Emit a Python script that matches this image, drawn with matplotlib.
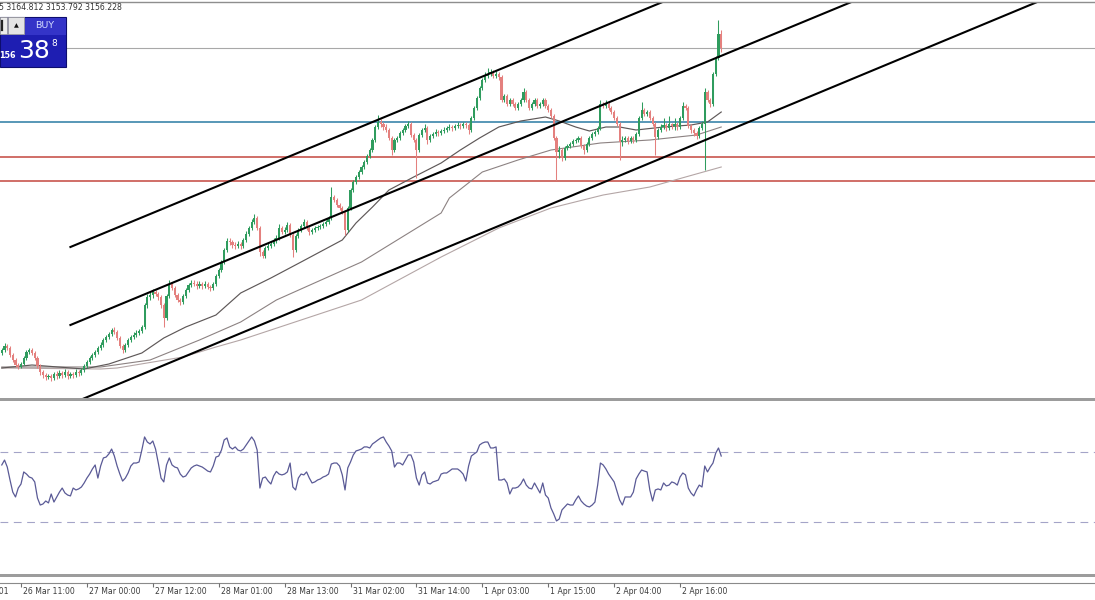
import numpy as np
import matplotlib.pyplot as plt
from matplotlib.patches import Rectangle

# ---- M30 candles (price units), bar 0 = left edge of the window ----
opens = [
    3003.5, 3005, 3007, 3006, 3002.5, 3000, 2997.5, 2996.5, 2998, 3001,
    3004, 3005, 3003.5, 3001, 2997, 2994, 2992.5, 2991.5, 2992, 2991,
    2993, 2992, 2993.5, 2992.5, 2994, 2992, 2993, 2992.5, 2994, 2993.5,
    2995, 2997, 2999, 3001, 3002.5, 3004, 3006, 3007.5, 3010, 3011.5,
    3013, 3015, 3014, 3011, 3007, 3005, 3007.5, 3010, 3011.5, 3012.5,
    3013.5, 3014.5, 3016.5, 3027.5, 3031.5, 3032.5, 3034, 3033, 3031.5, 3027.5,
    3021, 3032, 3038, 3036, 3032.5, 3030, 3029, 3032, 3035, 3037.5,
    3038.5, 3038, 3037, 3038, 3037, 3038, 3036.5, 3036, 3038, 3042,
    3045, 3049, 3055, 3059.5, 3059, 3057.5, 3057, 3058, 3057, 3060,
    3063, 3066, 3069, 3071, 3066, 3054, 3052, 3056, 3057, 3058,
    3059.5, 3061, 3066, 3064, 3065, 3067.5, 3062.5, 3055, 3062, 3065,
    3067, 3069, 3066, 3064, 3065, 3066, 3066.5, 3067, 3068, 3069,
    3071, 3081.5, 3080, 3077.5, 3076, 3074, 3065, 3076, 3085, 3089,
    3091.5, 3094, 3096.5, 3099, 3102, 3105, 3110, 3116.5, 3119, 3118,
    3116.5, 3115, 3111, 3105, 3110, 3111, 3113.5, 3115, 3117, 3118,
    3112.5, 3110, 3105, 3112.5, 3115, 3116, 3110, 3112, 3113, 3114,
    3113.5, 3114.5, 3115, 3116, 3116.5, 3116, 3117, 3117.5, 3117, 3118,
    3117.5, 3115, 3121, 3126, 3131, 3136, 3140, 3142, 3143, 3144,
    3142, 3143, 3141.5, 3130, 3132, 3128, 3130, 3128, 3126, 3128,
    3130, 3134, 3130, 3126, 3128, 3130, 3127, 3128, 3130, 3127,
    3125, 3122, 3111, 3104, 3105, 3101, 3106, 3107, 3108, 3109.5,
    3110, 3111, 3107, 3105, 3108, 3111, 3113, 3114, 3116, 3128,
    3127, 3128, 3126, 3124, 3121, 3118, 3109, 3110, 3111, 3109.5,
    3111, 3110, 3113, 3121, 3125, 3123, 3124, 3121, 3118, 3111.5,
    3115, 3116.5, 3117.5, 3116, 3118, 3117, 3118, 3116.5, 3121, 3127,
    3126, 3117, 3115, 3113.5, 3112, 3116, 3118, 3134, 3130, 3128,
    3143, 3151, 3163]
highs = [
    3006, 3008.5, 3008, 3007, 3003.5, 3001, 2998.5, 2999, 3002, 3005,
    3006, 3006, 3004.5, 3002, 2998, 2995, 2993.5, 2993, 2993, 2994,
    2994.5, 2995, 2994.5, 2995.5, 2995, 2994, 2994, 2995.5, 2995, 2996,
    2998, 3000, 3002, 3003.5, 3005, 3007, 3009, 3011, 3012.5, 3014,
    3016, 3016.5, 3015, 3012, 3008, 3008.5, 3011, 3012.5, 3014, 3015,
    3015.5, 3017.5, 3028.5, 3033, 3034, 3035.5, 3035, 3034, 3032.5, 3028.5,
    3033, 3040, 3039, 3037, 3033.5, 3031, 3033, 3036, 3038.5, 3040,
    3040, 3039.5, 3039.5, 3039, 3039.5, 3039, 3037.5, 3039, 3043, 3046,
    3050, 3056, 3061, 3061, 3060, 3059, 3059.5, 3059, 3061, 3064.5,
    3067, 3070.5, 3073, 3072, 3067, 3055, 3057, 3058.5, 3059.5, 3061,
    3062.5, 3068, 3067, 3066.5, 3069, 3068.5, 3063.5, 3063, 3066, 3068,
    3070.5, 3070, 3067, 3066, 3067, 3067.5, 3068, 3069, 3070, 3072,
    3086.5, 3082.5, 3081, 3078.5, 3077, 3075, 3077, 3086, 3090, 3092.5,
    3095, 3097.5, 3100, 3103, 3106, 3111, 3117.5, 3122.5, 3120.5, 3119,
    3118, 3116, 3112, 3111, 3112, 3114.5, 3116, 3118, 3119.5, 3119,
    3113.5, 3111, 3113.5, 3116, 3118, 3117, 3113, 3114, 3115.5, 3115,
    3115.5, 3116.5, 3117, 3118, 3117.5, 3118, 3119, 3118.5, 3119, 3119,
    3118.5, 3122, 3127, 3132, 3137, 3141, 3144, 3146, 3145.5, 3145,
    3144.5, 3144, 3142.5, 3133, 3133, 3131, 3131, 3129, 3129, 3131,
    3136, 3135, 3131, 3129, 3131, 3131, 3129, 3131, 3131, 3128,
    3126, 3123, 3112, 3107, 3106, 3107, 3108, 3109, 3110.5, 3111,
    3112, 3112, 3108, 3109, 3112, 3114, 3115, 3117, 3130, 3129,
    3130, 3129, 3127, 3125, 3122, 3119, 3112, 3112, 3112, 3112,
    3112, 3114, 3122, 3129, 3126, 3125, 3125, 3122, 3119, 3116,
    3118, 3121, 3118.5, 3122, 3118.5, 3121, 3119, 3122, 3129, 3128,
    3127, 3118, 3116, 3114.5, 3117, 3119.5, 3136, 3135, 3131, 3144,
    3152, 3170, 3164.8]
lows = [
    3002.5, 3004, 3005, 3001.5, 2999, 2996.5, 2995.5, 2996, 2997.5, 3000,
    3003, 3002.5, 3000, 2996, 2992.5, 2991, 2990, 2990.5, 2989.5, 2990,
    2990.5, 2991, 2991, 2991.5, 2990.5, 2991, 2991, 2991.5, 2992, 2992.5,
    2994, 2996, 2998, 3000, 3001.5, 3003, 3005, 3006.5, 3009, 3010.5,
    3012, 3013, 3010, 3006, 3003.5, 3004, 3006.5, 3009, 3010.5, 3011.5,
    3012.5, 3013.5, 3015.5, 3026, 3030, 3031, 3032, 3030, 3026, 3016.5,
    3020, 3031, 3035, 3031.5, 3029, 3027.5, 3028, 3031, 3034, 3036.5,
    3037, 3035.5, 3036, 3035.5, 3036, 3035.5, 3034.5, 3035, 3037, 3041,
    3044, 3048, 3054, 3057.5, 3056, 3055.5, 3056, 3055.5, 3056, 3059,
    3062, 3065, 3068, 3065, 3052, 3051, 3051, 3055, 3056, 3057,
    3058.5, 3060, 3063, 3063, 3064, 3061.5, 3051.5, 3054, 3061, 3064,
    3066, 3065, 3062.5, 3063, 3064, 3065, 3065.5, 3066, 3067, 3068,
    3070, 3079, 3076.5, 3075, 3073, 3062.5, 3064, 3075, 3084, 3088,
    3090.5, 3093, 3095.5, 3098, 3101, 3104, 3109, 3115.5, 3116.5, 3115,
    3114, 3110, 3102.5, 3104, 3109, 3110, 3112.5, 3114, 3116, 3111.5,
    3109, 3091, 3104, 3111.5, 3114, 3108, 3109, 3111, 3112, 3112,
    3112.5, 3113.5, 3114, 3115, 3114.5, 3115, 3116, 3115.5, 3116, 3116,
    3113, 3114, 3120, 3125, 3130, 3135, 3139, 3141, 3142, 3141,
    3141, 3140, 3129, 3129, 3127, 3127, 3127, 3125, 3125, 3127,
    3129, 3129, 3125, 3125, 3127, 3126, 3126, 3127, 3126, 3124,
    3121, 3110, 3090, 3101, 3099.5, 3100, 3105, 3106, 3107, 3108.5,
    3109, 3106, 3103, 3104, 3107, 3110, 3112, 3113, 3115, 3126,
    3126, 3125, 3123, 3120, 3117, 3100, 3107, 3109, 3108, 3108.5,
    3108.5, 3109, 3112, 3120, 3122, 3122, 3120, 3117, 3102.5, 3110.5,
    3114, 3115.5, 3114.5, 3115, 3115.5, 3115, 3115, 3115.5, 3120, 3125,
    3116, 3113.5, 3112, 3110.5, 3111, 3115, 3095, 3129, 3126.5, 3127,
    3142, 3150, 3153.8]
closes = [
    3005, 3007, 3006, 3002.5, 3000, 2997.5, 2996.5, 2998, 3001, 3004,
    3005, 3003.5, 3001, 2997, 2994, 2992.5, 2991.5, 2992, 2991, 2993,
    2992, 2993.5, 2992.5, 2994, 2992, 2993, 2992.5, 2994, 2993.5, 2995,
    2997, 2999, 3001, 3002.5, 3004, 3006, 3007.5, 3010, 3011.5, 3013,
    3015, 3014, 3011, 3007, 3005, 3007.5, 3010, 3011.5, 3012.5, 3013.5,
    3014.5, 3016.5, 3027.5, 3031.5, 3032.5, 3034, 3033, 3031.5, 3027.5, 3021,
    3032, 3038, 3036, 3032.5, 3030, 3029, 3032, 3035, 3037.5, 3038.5,
    3038, 3037, 3038, 3037, 3038, 3036.5, 3036, 3038, 3042, 3045,
    3049, 3055, 3059.5, 3059, 3057.5, 3057, 3058, 3057, 3060, 3063,
    3066, 3069, 3071, 3066, 3054, 3052, 3056, 3057, 3058, 3059.5,
    3061, 3066, 3064, 3065, 3067.5, 3062.5, 3055, 3062, 3065, 3067,
    3069, 3066, 3064, 3065, 3066, 3066.5, 3067, 3068, 3069, 3071,
    3081.5, 3080, 3077.5, 3076, 3074, 3065, 3076, 3085, 3089, 3091.5,
    3094, 3096.5, 3099, 3102, 3105, 3110, 3116.5, 3119, 3118, 3116.5,
    3115, 3111, 3105, 3110, 3111, 3113.5, 3115, 3117, 3118, 3112.5,
    3110, 3105, 3112.5, 3115, 3116, 3110, 3112, 3113, 3114, 3113.5,
    3114.5, 3115, 3116, 3116.5, 3116, 3117, 3117.5, 3117, 3118, 3117.5,
    3115, 3121, 3126, 3131, 3136, 3140, 3142, 3143, 3144, 3142,
    3143, 3141.5, 3130, 3132, 3128, 3130, 3128, 3126, 3128, 3130,
    3134, 3130, 3126, 3128, 3130, 3127, 3128, 3130, 3127, 3125,
    3122, 3111, 3104, 3105, 3101, 3106, 3107, 3108, 3109.5, 3110,
    3111, 3107, 3105, 3108, 3111, 3113, 3114, 3116, 3128, 3127,
    3128, 3126, 3124, 3121, 3118, 3109, 3110, 3111, 3109.5, 3111,
    3110, 3113, 3121, 3125, 3123, 3124, 3121, 3118, 3111.5, 3115,
    3116.5, 3117.5, 3116, 3118, 3117, 3118, 3116.5, 3121, 3127, 3126,
    3117, 3115, 3113.5, 3112, 3116, 3118, 3134, 3130, 3128, 3143,
    3151, 3163, 3156.228]

# ---- RSI, one value per bar ----
rsi = [
    62.6, 65.4, 61.4, 54, 47.1, 44.3, 49.4, 51.7, 58.6, 57.4,
    55.7, 55.1, 52.9, 43.7, 39.7, 40.3, 42, 40.9, 46, 41.4,
    44.3, 47.1, 49.4, 46.6, 45.4, 44.9, 49.4, 48.3, 48.9, 50,
    52.3, 55.1, 57.4, 60.3, 62.6, 55.1, 62, 66.6, 67.1, 68.9,
    71.7, 67.7, 62, 57.4, 53.4, 55.1, 58, 62, 63.7, 63.7,
    64.3, 71.1, 78.6, 75.7, 74.6, 76.3, 71.7, 63.7, 55.1, 52.9,
    62.6, 66.6, 62.6, 61.4, 60.9, 57.4, 55.7, 56.3, 58.6, 60.9,
    62, 62.6, 62, 61.4, 60.3, 59.1, 58.6, 62, 67.1, 67.7,
    71.1, 76.9, 78, 72.9, 71.7, 72.9, 71.1, 70.6, 71.7, 74,
    76.3, 78.6, 76.3, 71.1, 49.4, 55.1, 55.7, 53.4, 51.7, 56.3,
    58.9, 57.4, 56.9, 57.4, 58.6, 63.7, 50, 48.3, 55.1, 57.4,
    56.9, 58.6, 55.1, 52.3, 52.9, 54, 54.6, 55.7, 56.3, 57.4,
    63.1, 63.7, 63.7, 62, 56.9, 48.3, 60.9, 64.3, 68.3, 70.6,
    71.1, 71.7, 72.9, 72.9, 72.3, 74.6, 75.7, 76.9, 78, 78.6,
    75.7, 73.4, 70.6, 61.4, 63.7, 63.7, 62.6, 65.4, 68.3, 68.3,
    64.3, 55.1, 51.1, 56.9, 58.6, 52.3, 51.7, 52.9, 53.4, 54,
    57.4, 58, 58, 59.1, 60.3, 60.3, 60.3, 59.1, 57.4, 53.4,
    62, 67.7, 68.9, 70, 74, 75.1, 75.7, 75.7, 72.3, 72.3,
    72.9, 54, 54, 54.6, 52.3, 46, 49.4, 49.4, 50, 51.7,
    54.6, 51.1, 49.4, 48.9, 52.3, 49.4, 46.6, 52.3, 45.4, 43.7,
    38, 34.6, 30.6, 31.7, 36.9, 38.6, 40.3, 39.7, 39.7, 42.6,
    44.9, 42, 40.3, 39.1, 38.6, 39.7, 41.4, 51.1, 63.7, 62.6,
    60.3, 57.4, 55.1, 52.9, 47.7, 42.6, 39.7, 44.3, 44.3, 44.3,
    47.1, 54.6, 57.4, 59.7, 59.1, 58.6, 48.3, 42, 48.3, 48.9,
    48.3, 52.3, 50.6, 51.1, 52.9, 52.3, 51.1, 55.7, 58, 56.9,
    49.4, 46.6, 44.9, 48.3, 51.1, 50, 62, 58.6, 61.4, 63.7,
    69.4, 72.3, 67.7]

# ---- moving averages (bar index, value) ----
ma_fast_idx = [0, 11, 30, 39, 51, 59, 67, 78, 87, 98, 109, 124, 129, 135, 141, 150,
               160, 167, 174, 181, 189, 198, 203, 209, 214, 220, 225, 231, 241, 251, 257, 262]
ma_fast = [2996, 2997.5, 2995.5, 2998, 3003.5, 3011, 3016.5, 3022.5, 3033.5, 3041, 3049,
           3060, 3068.5, 3076.5, 3085, 3091.5, 3098.5, 3105, 3111, 3116.5, 3119.5, 3121.5,
           3119.5, 3116.5, 3114.5, 3116.5, 3116.5, 3115, 3116.5, 3117.5, 3119, 3124]
ma_mid_idx = [0, 36, 54, 72, 87, 100, 131, 160, 163, 175, 188, 200, 218, 236, 253, 262]
ma_mid = [2996.5, 2996.5, 3000, 3010, 3019, 3030, 3049, 3073.5, 3081, 3094, 3100, 3105,
          3108.5, 3110, 3112.5, 3116.5]
ma_slow_idx = [0, 36, 42, 66, 78, 87, 109, 131, 160, 181, 200, 219, 236, 262]
ma_slow = [2996, 2995.5, 2996, 3001.5, 3006.5, 3010, 3020, 3030, 3051.5, 3066, 3076,
           3082.5, 3086.5, 3096.5]

# ---- drawn objects ----
chan_x = [(25, 260), (25, 330), (0, 400)]
chan_y = [(3056.5, 3190.0), (3017.5, 3190.7), (2963.7, 3192.1)]
bid_level = 3156.228
blue_level = 3119
red_levels = [3101.5, 3089.5]

tick_bars = [-17, 7, 31, 55, 79, 103, 127, 151, 175, 199, 223, 247]
tick_labels = ['26 Mar 00:01', '26 Mar 11:00', '27 Mar 00:00', '27 Mar 12:00',
               '28 Mar 01:00', '28 Mar 13:00', '31 Mar 02:00', '31 Mar 14:00',
               '1 Apr 03:00', '1 Apr 15:00', '2 Apr 04:00', '2 Apr 16:00']

W, H = 1095, 600
px_bar = 2.746
x0 = 1.78
xlim = ((0 - x0) / px_bar, (W - x0) / px_bar)

def fy(p):
    return 1 - p / H

fig = plt.figure(figsize=(W / 100, H / 100), dpi=100)
fig.patch.set_facecolor('white')

# main price pane (pixel rows 3..398)
ax = fig.add_axes([0, fy(398), 1, (398 - 3) / H])
ax.set_xlim(*xlim)
ax.set_ylim(2981, 3178.5)
ax.axis('off')

o = np.array(opens)
c = np.array(closes)
hi = np.array(highs)
lo = np.array(lows)
x = np.arange(len(c))
cols = np.where(c >= o, '#2f9c5e', '#e4807e')
ax.vlines(x, lo, hi, colors=cols, lw=0.75, zorder=3)
ax.bar(x, np.maximum(np.abs(c - o), 0.4), bottom=np.minimum(o, c), width=0.78,
       color=cols, linewidth=0, zorder=3)

ax.plot(ma_slow_idx, ma_slow, color='#b4a6a6', lw=0.8, zorder=2)
ax.plot(ma_mid_idx, ma_mid, color='#8c8282', lw=0.8, zorder=2)
ax.plot(ma_fast_idx, ma_fast, color='#5e5858', lw=0.85, zorder=2)

ax.axhline(bid_level, color='#a8a8a8', lw=0.8, zorder=1)
ax.axhline(blue_level, color='#2a7aa3', lw=1.1, zorder=1)
for lv in red_levels:
    ax.axhline(lv, color='#c4473f', lw=1.1, zorder=1)
for cx, cy in zip(chan_x, chan_y):
    ax.plot(cx, cy, color='black', lw=1.5, zorder=4)

# RSI pane (pixel rows 401..574)
ar = fig.add_axes([0, fy(574), 1, (574 - 401) / H])
ar.set_xlim(*xlim)
ar.set_ylim(0.29, 99.14)
ar.axis('off')
for lv in (70, 30):
    ar.axhline(lv, color='#a4a4c8', lw=0.8, dashes=(7, 5))
ar.plot(x, rsi, color='#5a5a96', lw=0.9)

# time axis
at = fig.add_axes([0, 0, 1, (H - 577) / H])
at.set_xlim(*xlim)
at.set_ylim(H, 577)
at.axis('off')
at.axhline(583, color='#8a8a8a', lw=0.8)
at.vlines(tick_bars, 583, 586.5, color='#707070', lw=0.8)
for tb, tl in zip(tick_bars, tick_labels):
    at.text(tb + 0.75, 591.5, tl, fontsize=5.6, color='#3c3c3c', va='center',
            ha='left', clip_on=True)

# window chrome in pixel coordinates
ov = fig.add_axes([0, 0, 1, 1], zorder=10)
ov.set_xlim(0, W)
ov.set_ylim(H, 0)
ov.axis('off')
ov.patch.set_alpha(0)
ov.plot([0, W], [1.5, 1.5], color='#8e8e8e', lw=1.0)
ov.add_patch(Rectangle((0, 397.5), W, 3, color='#9c9c9c', lw=0))
ov.add_patch(Rectangle((0, 574), W, 3, color='#9c9c9c', lw=0))
ov.text(-1, 8, '5 3164.812 3153.792 3156.228', fontsize=5.6, color='#333333',
        va='center', ha='left')

# one-click BUY panel
ov.add_patch(Rectangle((0, 17), 66, 50, fc='#1e1eb2', ec='#0d0d6e', lw=0.8))
ov.add_patch(Rectangle((25, 17.5), 40.5, 17, fc='#3434c8', ec='none'))
ov.add_patch(Rectangle((0, 17), 7, 17, fc='#ececec', ec='#a0a0a0', lw=0.6))
ov.add_patch(Rectangle((8, 17), 16, 17, fc='#e4e4e4', ec='#a0a0a0', lw=0.6))
ov.plot([2, 2], [21, 30], color='#222222', lw=1.6)
ov.text(16, 25.5, '\u25b2', fontsize=4.5, color='#111111', ha='center', va='center')
ov.text(45, 26, 'BUY', fontsize=6.8, color='#d4dcff', ha='center', va='center')
ov.text(-1, 56, '156', fontsize=5.8, color='white', ha='left', va='center',
        fontweight='bold')
ov.text(34, 51, '38', fontsize=18, color='white', ha='center', va='center')
ov.text(54.5, 43, '8', fontsize=6.5, color='white', ha='center', va='center')

fig.savefig('out.png', dpi=100, facecolor='white')
